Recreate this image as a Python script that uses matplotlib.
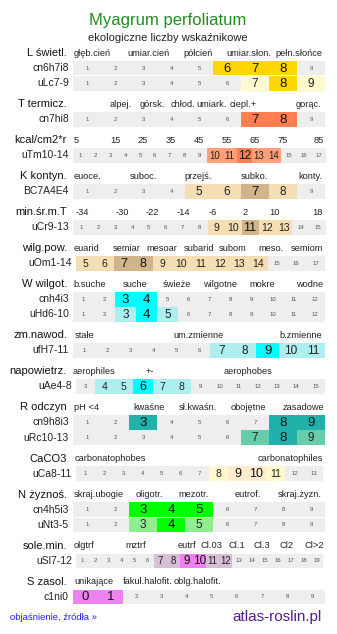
import matplotlib
matplotlib.use('Agg')
from matplotlib import pyplot as plt

plt.rcParams['font.family'] = ['Liberation Sans', 'DejaVu Sans']

# nazwy sekcji (kolumna z lewej)
section_names = ['L świetl.', 'T termicz.', 'kcal/cm2*r', 'K kontyn.', 'min.śr.m.T',
                 'wilg.pow.', 'W wilgot.', 'zm.nawod.', 'napowietrz.', 'R odczyn',
                 'CaCO3', 'N żyznoś.', 'sole.min.', 'S zasol.']

# etykiety nad skala
header_labels = [
  ['głęb.cień', 'umiar.cień', 'półcień', 'umiar.słon.', 'pełn.słońce'],
  ['alpej.', 'górsk.', 'chłod.', 'umiark.', 'ciepl.+', 'gorąc.'],
  ['5', '15', '25', '35', '45', '55', '65', '75', '85'],
  ['euoce.', 'suboc.', 'przejś.', 'subko.', 'konty.'],
  ['-34', '-30', '-22', '-14', '-6', '2', '10', '18'],
  ['euarid', 'semiar', 'mesoar', 'subarid', 'subom', 'meso.', 'semiom'],
  ['b.suche', 'suche', 'świeże', 'wilgotne', 'mokre', 'wodne'],
  ['stałe', 'um.zmienne', 'b.zmienne'],
  ['aerophiles', '+-', 'aerophobes'],
  ['pH <4', 'kwaśne', 'sł.kwaśn.', 'obojętne', 'zasadowe'],
  ['carbonatophobes', 'carbonatophiles'],
  ['skraj.ubogie', 'oligotr.', 'mezotr.', 'eutrof.', 'skraj.żyzn.'],
  ['olgtrf', 'mztrf', 'eutrf', 'Cl.03', 'Cl.1', 'Cl.3', 'Cl2', 'Cl>2'],
  ['unikające', 'fakul.halofit.', 'oblg.halofit.'],
]

# wiersze: kod, zakres skali, wartosci mocne i slabe
row_codes = [['cn6h7i8', 'uLc7-9'], ['cn7hi8'], ['uTm10-14'], ['BC7A4E4'], ['uCr9-13'],
             ['uOm1-14'], ['cnh4i3', 'uHd6-10'], ['ufH7-11'], ['uAe4-8'],
             ['cn9h8i3', 'uRc10-13'], ['uCa8-11'], ['cn4h5i3', 'uNt3-5'], ['uSl7-12'], ['c1ni0']]
row_scale = [[(1, 9), (1, 9)], [(1, 9)], [(1, 17)], [(1, 9)], [(1, 15)],
             [(5, 17)], [(1, 12), (1, 12)], [(1, 11)], [(3, 15)],
             [(1, 9), (1, 9)], [(1, 13)], [(1, 9), (1, 9)], [(1, 19)], [(0, 9)]]
row_strong = [[[6, 7, 8], [8]], [[7, 8]], [[12]], [[7]], [[11]],
              [[7, 8]], [[3, 4], [4]], [[9]], [[6]],
              [[3, 8, 9], [8]], [[9, 10]], [[3, 4, 5], [4]], [[9, 10]], [[0, 1]]]
row_light = [[[], [7, 9]], [[]], [[10, 11, 13, 14]], [[5, 6, 8]], [[9, 10, 12, 13]],
             [[5, 6, 9, 10, 11, 12, 13, 14]], [[], [3, 5]], [[7, 8, 10, 11]], [[4, 5, 7, 8]],
             [[], [7, 9]], [[8, 11]], [[], [3, 5]], [[7, 8, 11, 12]], [[]]]

# kolory (mocny, slaby) dla sekcji
sec_colors = [('#FFD700', '#FFFACD'), ('#FF7F50', '#FFA07A'), ('#FF7F50', '#FFA07A'),
              ('#D2B48C', '#F5DEB3'), ('#D2B48C', '#F5DEB3'), ('#D2B48C', '#F5DEB3'),
              ('#00FFFF', '#AFEEEE'), ('#00FFFF', '#AFEEEE'), ('#00FFFF', '#AFEEEE'),
              ('#20B2AA', '#66CDAA'), ('#FFEBCD', '#FFFACD'), ('#00FF00', '#90EE90'),
              ('#EE82EE', '#D8BFD8'), ('#EE82EE', '#D8BFD8')]

# polozenia etykiet naglowka (px)
header_x = [
  [92, 148, 198, 249, 299],
  [121, 152, 183, 212, 243, 309],
  [76, 115, 143, 171, 199, 227, 255, 283, 319],
  [87, 143, 198, 254, 310],
  [82, 122, 152, 183, 213, 245, 275, 317],
  [86, 127, 162, 199, 233, 271, 307],
  [90, 135, 177, 220, 262, 310],
  [85, 199, 301],
  [94, 150, 248],
  [87, 149, 198, 248, 303],
  [110, 290],
  [99, 149, 194, 248, 300],
  [84, 136, 187, 211, 237, 262, 286, 314],
  [94, 148, 197],
]
shifted = ['uOm1-14', 'uAe4-8', 'uCa8-11', 'uSl7-12']
right_edge = {'uTm10-14': 326, 'uCr9-13': 326, 'uCa8-11': 323, 'uSl7-12': 323}

fig = plt.figure(figsize=(3.37, 6.34), dpi=100)
ax = fig.add_axes([0, 0, 1, 1])
ax.set_xlim(0, 337)
ax.set_ylim(634, 0)
ax.axis('off')

ax.text(168, 20, 'Myagrum perfoliatum', ha='center', va='center', fontsize=12, color='#228B22')
ax.text(168, 38, 'ekologiczne liczby wskaźnikowe', ha='center', va='center', fontsize=8, color='#222222')

y = 53.0
pitch = 15.2
rh = 14.5
for s, name in enumerate(section_names):
  ax.text(67, y, name, ha='right', va='center', fontsize=8, color='#111111')
  for lab, hx in zip(header_labels[s], header_x[s]):
    ax.text(hx, y, lab, ha='center', va='center', fontsize=6.7, color='#222222')
  top = y + 7.8
  for r, code in enumerate(row_codes[s]):
    lo, hi = row_scale[s][r]
    vals = list(range(lo, hi + 1))
    n = len(vals)
    x0 = 76 if code in shifted else 73
    x1 = right_edge.get(code, 325)
    w = (x1 - x0) / n
    yc = top + r * pitch + rh / 2
    cols = []
    for v in vals:
      if v in row_strong[s][r]:
        cols.append(sec_colors[s][0])
      elif v in row_light[s][r]:
        cols.append(sec_colors[s][1])
      else:
        cols.append('#EEEEEE')
    lefts = [x0 + i * w for i in range(n)]
    ax.barh(yc, [w] * n, left=lefts, height=rh, color=cols, linewidth=0)
    if n >= 17:
      fs_s, fs_l = 8.5, 7
    elif n >= 13:
      fs_s, fs_l = 9, 7.5
    else:
      fs_s, fs_l = 9.5, 8.5
    for i, v in enumerate(vals):
      if v in row_strong[s][r]:
        ax.text(lefts[i] + w / 2, yc + 0.5, str(v), ha='center', va='center', fontsize=fs_s, color='#111111')
      elif v in row_light[s][r]:
        ax.text(lefts[i] + w / 2, yc + 0.5, str(v), ha='center', va='center', fontsize=fs_l, color='#222222')
      else:
        ax.text(lefts[i] + w / 2, yc, str(v), ha='center', va='center', fontsize=4.3, color='#555555')
    ax.text(x0 - 4, yc, code, ha='right', va='center', fontsize=7.5, color='#222222')
  y = top + len(row_codes[s]) * pitch + 13.0

ax.text(10, 618, 'objaśnienie, źródła »', ha='left', va='center', fontsize=6.8, color='#2020FF')
ax.text(322, 617, 'atlas-roslin.pl', ha='right', va='center', fontsize=11, color='#551A8B')

fig.savefig('out.png', dpi=100)
